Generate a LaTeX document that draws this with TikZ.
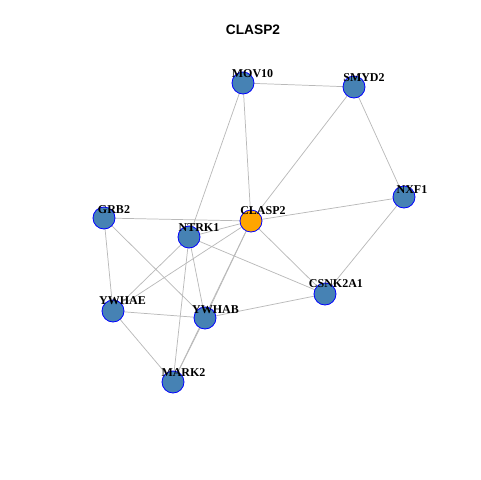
\documentclass[tikz,border=0pt]{standalone}
\usepackage{fontspec}
\setmainfont{Liberation Serif}
\setsansfont{Liberation Sans}
\usetikzlibrary{positioning, backgrounds}
\definecolor{NodeSteel}{RGB}{70, 130, 180}
\definecolor{NodeOrange}{RGB}{255, 165, 0}
\definecolor{EdgeGray}{RGB}{185, 185, 185}
\definecolor{RimBlue}{RGB}{0, 0, 255}

\begin{document}
\begin{tikzpicture}[x=0.75pt, y=-0.75pt,
    vert/.style={circle, draw=RimBlue, fill=NodeSteel, line width=0.6pt,
                 minimum size=16.5pt, inner sep=0pt},
    hub/.style={vert, fill=NodeOrange},
    lab/.style={font=\bfseries\fontsize{9}{9}\selectfont, inner sep=0pt},
    edge/.style={draw=EdgeGray, line width=0.55pt}]
        \useasboundingbox (0,0) rectangle (480,480);
        \node[font=\sffamily\bfseries\fontsize{10.3}{10}\selectfont] (title) at (253,30) {CLASP2};
        % vertices
        \node[vert] (mov10)   at (243,83)  {};
        \node[vert] (smyd2)   at (354,87)  {};
        \node[vert] (nxf1)    at (404,197) {};
        \node[vert] (grb2)    at (104,218) {};
        \node[hub]  (clasp2)  at (251,221) {};
        \node[vert] (ntrk1)   at (189,237) {};
        \node[vert] (csnk2a1) at (325,294) {};
        \node[vert] (ywhae)   at (113,311) {};
        \node[vert] (ywhab)   at (205,318) {};
        \node[vert] (mark2)   at (173,382) {};
        % labels
        \node[lab] (l-mov10)   at (252.5,74)  {MOV10};
        \node[lab] (l-smyd2)   at (364,77.5)  {SMYD2};
        \node[lab] (l-nxf1)    at (412,189.5) {NXF1};
        \node[lab] (l-grb2)    at (114,210)   {GRB2};
        \node[lab] (l-clasp2)  at (263,211)   {CLASP2};
        \node[lab] (l-ntrk1)   at (199,228)   {NTRK1};
        \node[lab] (l-csnk2a1) at (336,284)   {CSNK2A1};
        \node[lab] (l-ywhae)   at (122.5,301) {YWHAE};
        \node[lab] (l-ywhab)   at (215.5,309.5) {YWHAB};
        \node[lab] (l-mark2)   at (183.5,372.5) {MARK2};
        % edges
        \begin{scope}[on background layer]
          \foreach \a/\b in {mov10/smyd2, mov10/clasp2, mov10/ntrk1,
                             smyd2/clasp2, smyd2/nxf1, nxf1/clasp2, nxf1/csnk2a1,
                             clasp2/csnk2a1, grb2/clasp2, grb2/ywhae, grb2/ywhab,
                             ntrk1/clasp2, ntrk1/csnk2a1, ntrk1/ywhae, ntrk1/ywhab,
                             ntrk1/mark2, clasp2/ywhae, clasp2/ywhab, clasp2/mark2,
                             ywhab/mark2, ywhae/ywhab, ywhae/mark2, ywhab/csnk2a1}
            \draw[edge] (\a.center) -- (\b.center);
        \end{scope}
      \end{tikzpicture}
\end{document}
